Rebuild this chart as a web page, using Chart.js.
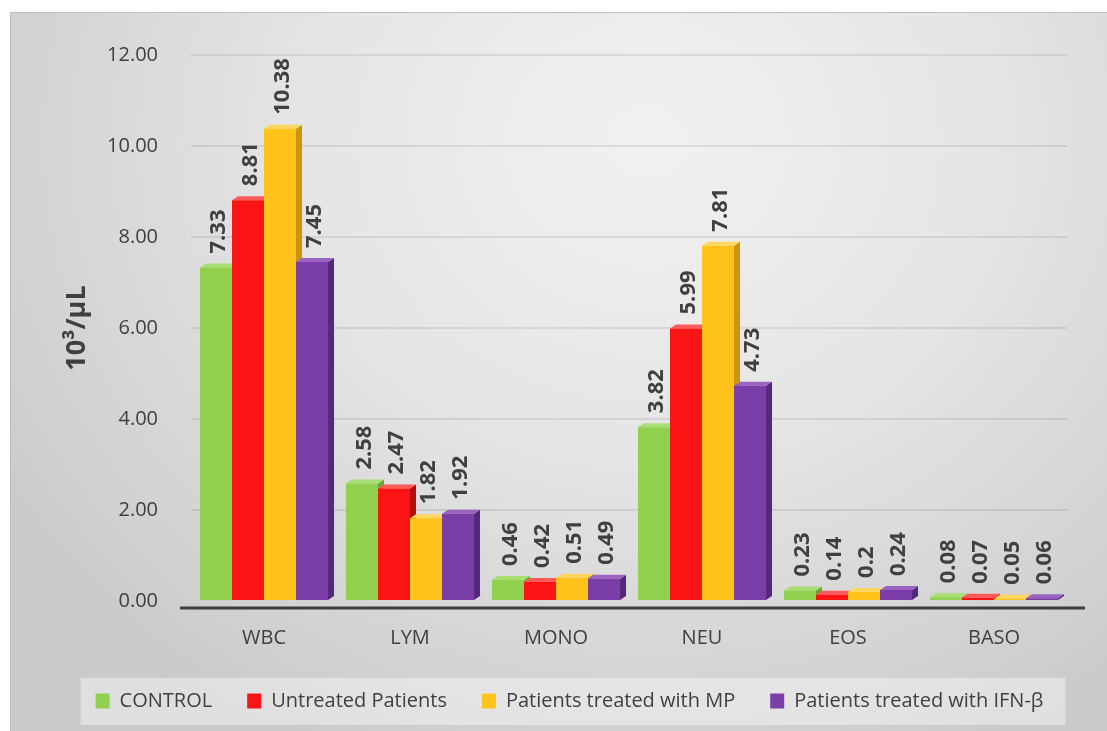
<!DOCTYPE html>
<html>
<head>
<meta charset="utf-8">
<script src="https://cdn.jsdelivr.net/npm/chart.js@4.4.1/dist/chart.umd.min.js"></script>
<style>
  html, body { margin: 0; padding: 0; background: #fff; }
  #wrap { position: relative; width: 1107px; height: 731px; overflow: hidden; }
  #frame {
    position: absolute; left: 10px; top: 12px; width: 1097px; height: 719px;
    border-left: 1px solid #bdbdbd; border-top: 1px solid #bdbdbd;
    background: radial-gradient(ellipse 70% 95% at 58% 18%, #f1f1f1 0%, #e5e5e5 45%, #cacaca 100%);
  }
  #chart { position: absolute; left: 0; top: 0; }
</style>
</head>
<body>
<div id="wrap">
  <div id="frame"></div>
  <canvas id="chart" width="1107" height="731"></canvas>
</div>
<script>
const categories = ["WBC", "LYM", "MONO", "NEU", "EOS", "BASO"];
const seriesNames = ["CONTROL", "Untreated Patients", "Patients treated with MP", "Patients treated with IFN-β"];
const controlValues = [7.33, 2.58, 0.46, 3.82, 0.23, 0.08];
const untreatedValues = [8.81, 2.47, 0.42, 5.99, 0.14, 0.07];
const mpValues = [10.38, 1.82, 0.51, 7.81, 0.2, 0.05];
const ifnValues = [7.45, 1.92, 0.49, 4.73, 0.24, 0.06];
const yMin = 0, yMax = 12, yStep = 2;
const yTitle = "10³/µL";

const fronts = ["#92d050", "#fb1414", "#ffc31c", "#7b3ea8"];
const sides = ["#6da53a", "#b50c0c", "#c99512", "#55287a"];
const tops = ["#a9de72", "#ff5a5a", "#ffd65e", "#9a63c2"];
const textColor = "#404040";

Chart.defaults.font.family = "'Open Sans', 'Noto Sans', sans-serif";
Chart.defaults.color = textColor;

// fake 3D side and top faces, drawn before the fronts
const bar3d = {
  id: "bar3d",
  beforeDatasetsDraw(chart) {
    const ctx = chart.ctx;
    const dx = 6, dy = 4;
    chart.data.datasets.forEach((ds, i) => {
      chart.getDatasetMeta(i).data.forEach((el) => {
        const { x, y, base, width } = el.getProps(["x", "y", "base", "width"], true);
        const l = x - width / 2, r = x + width / 2;
        ctx.fillStyle = sides[i];
        ctx.beginPath();
        ctx.moveTo(r, y); ctx.lineTo(r + dx, y - dy); ctx.lineTo(r + dx, base - dy); ctx.lineTo(r, base);
        ctx.closePath(); ctx.fill();
        ctx.fillStyle = tops[i];
        ctx.beginPath();
        ctx.moveTo(l, y); ctx.lineTo(l + dx, y - dy); ctx.lineTo(r + dx, y - dy); ctx.lineTo(r, y);
        ctx.closePath(); ctx.fill();
      });
    });
  },
  afterDatasetsDraw(chart) {
    const ctx = chart.ctx;
    const area = chart.chartArea;
    // floor line
    ctx.save();
    ctx.strokeStyle = "#3d3d3d";
    ctx.lineWidth = 3;
    ctx.beginPath();
    ctx.moveTo(area.left - 11, area.bottom + 7);
    ctx.lineTo(area.right + 18, area.bottom + 7);
    ctx.stroke();
    // value labels
    ctx.fillStyle = textColor;
    ctx.font = "bold 22px 'Open Sans', sans-serif";
    ctx.textAlign = "left";
    ctx.textBaseline = "middle";
    chart.data.datasets.forEach((ds, i) => {
      chart.getDatasetMeta(i).data.forEach((el, j) => {
        ctx.save();
        ctx.translate(el.x + 3, el.y - 14);
        ctx.rotate(-Math.PI / 2);
        ctx.fillText(String(ds.data[j]), 0, 0);
        ctx.restore();
      });
    });
    ctx.restore();
  },
};

// move the legend a bit right and paint the lighter band behind it
const legendBand = {
  id: "legendBand",
  afterLayout(chart) {
    chart.legend.left += 36;
    chart.legend.right += 36;
  },
  beforeDraw(chart) {
    const boxes = chart.legend.legendHitBoxes;
    if (!boxes || !boxes.length) return;
    const left = Math.min(...boxes.map((b) => b.left));
    const right = Math.max(...boxes.map((b) => b.left + b.width));
    const mid = boxes[0].top + boxes[0].height / 2;
    const ctx = chart.ctx;
    ctx.save();
    ctx.fillStyle = "rgba(255,255,255,0.4)";
    ctx.fillRect(left - 15, mid - 23, right - left + 37, 47);
    ctx.restore();
  },
};

const allValues = [controlValues, untreatedValues, mpValues, ifnValues];

new Chart(document.getElementById("chart"), {
  type: "bar",
  data: {
    labels: categories,
    datasets: allValues.map((vals, i) => ({
      label: seriesNames[i],
      data: vals,
      backgroundColor: fronts[i],
      borderWidth: 0,
      categoryPercentage: 0.877,
      barPercentage: 1.0,
    })),
  },
  options: {
    responsive: false,
    animation: false,
    devicePixelRatio: 1,
    layout: { padding: { top: 55, right: 40, left: 0, bottom: 10 } },
    plugins: {
      tooltip: { enabled: false },
      legend: {
        position: "bottom",
        labels: {
          boxWidth: 14,
          boxHeight: 15,
          padding: 35,
          color: textColor,
          font: { size: 20 },
        },
      },
    },
    scales: {
      x: {
        grid: { display: false },
        border: { display: false },
        ticks: { font: { size: 20 }, color: textColor, padding: 17 },
        afterFit(scale) { scale.height = 55; },
      },
      y: {
        min: yMin,
        max: yMax,
        ticks: {
          stepSize: yStep,
          font: { size: 20 },
          color: textColor,
          padding: 33,
          callback: (v) => v.toFixed(2),
        },
        grid: {
          color: (c) => (c.tick.value === 0 ? "rgba(0,0,0,0)" : "rgba(0,0,0,0.08)"),
          lineWidth: 2,
          drawTicks: false,
        },
        border: { display: false },
        title: {
          display: true,
          text: yTitle,
          color: textColor,
          font: { size: 27, weight: "bold" },
          padding: { top: 61, bottom: 0 },
        },
        afterFit(scale) { scale.width = 191; },
      },
    },
  },
  plugins: [bar3d, legendBand],
});
</script>
</body>
</html>
